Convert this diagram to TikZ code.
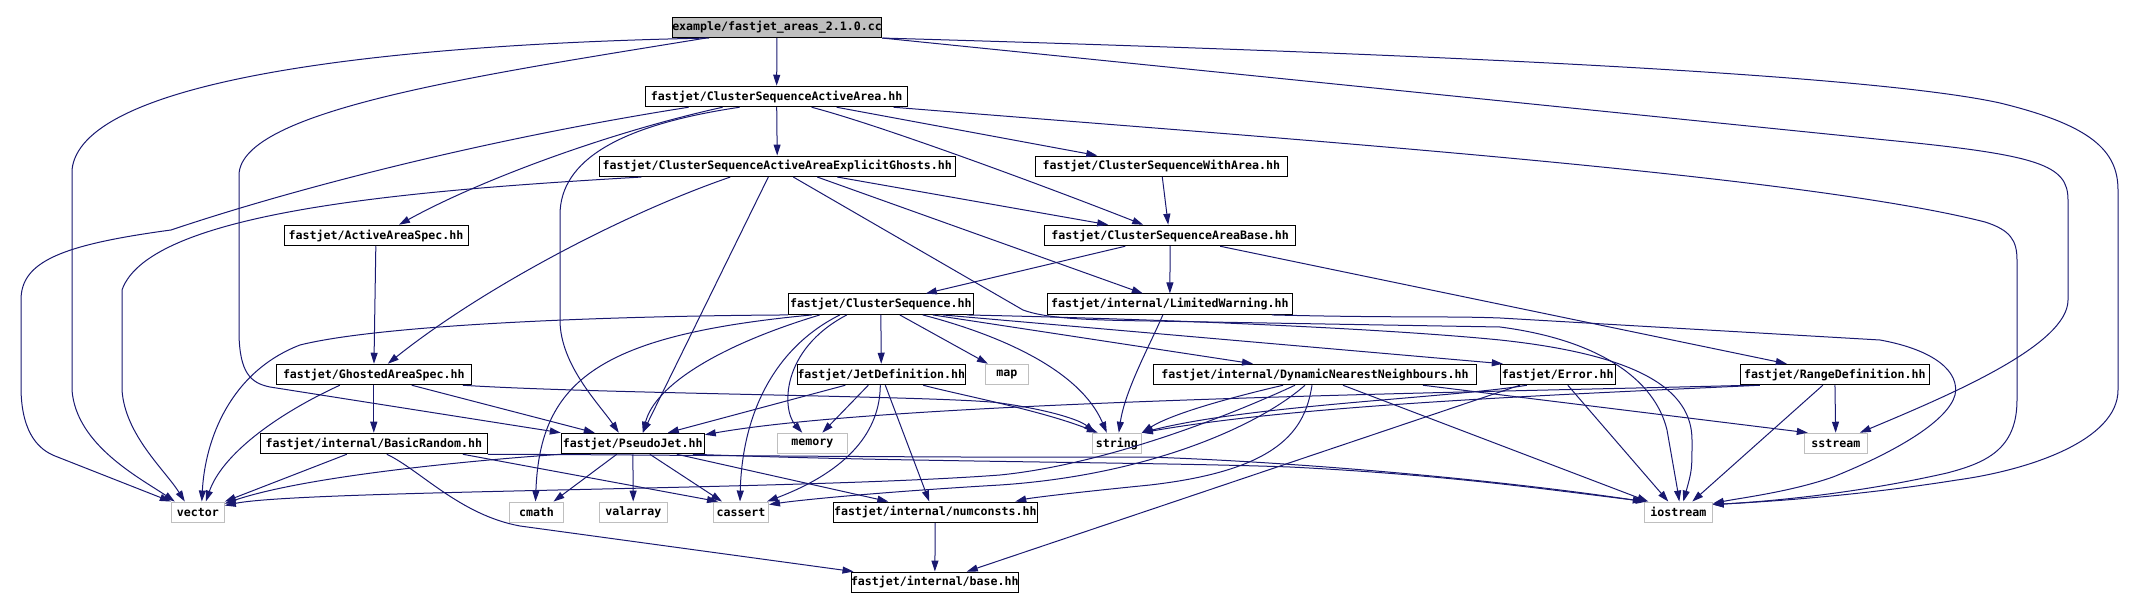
\documentclass[tikz,border=0pt]{standalone}
\usepackage{fontspec}
\setmonofont{DejaVu Sans Mono}
\usepackage{xcolor}
\usepackage{tikz}
\usetikzlibrary{arrows.meta}
\definecolor{edgeblue}{HTML}{191970}
\definecolor{sysgray}{HTML}{BFBFBF}

\begin{document}
\begin{tikzpicture}[x=1pt, y=-1pt,
  every node/.style={font=\fontsize{11.6pt}{13pt}\selectfont\ttfamily\bfseries, inner sep=0pt, minimum height=20.5pt},
  hdr/.style={draw=black, line width=1pt, fill=white},
  sys/.style={draw=sysgray, line width=1pt, fill=white},
  dep/.style={draw=edgeblue, line width=1pt, -{Triangle[length=11pt,width=7pt]}}]
\useasboundingbox (0,0) rectangle (2137,609);

\node[hdr, fill=sysgray, minimum width=207pt] (root) at (777,27.3) {example/fastjet\_areas\_2.1.0.cc};
\node[hdr, minimum width=262pt] (csaa) at (776.6,96.5) {fastjet/ClusterSequenceActiveArea.hh};
\node[hdr, minimum width=356pt] (csaaeg) at (777.3,166.3) {fastjet/ClusterSequenceActiveAreaExplicitGhosts.hh};
\node[hdr, minimum width=252pt] (cswa) at (1161.3,166.3) {fastjet/ClusterSequenceWithArea.hh};
\node[hdr, minimum width=184pt] (aas) at (376,235.5) {fastjet/ActiveAreaSpec.hh};
\node[hdr, minimum width=251pt] (csab) at (1170.2,235.5) {fastjet/ClusterSequenceAreaBase.hh};
\node[hdr, minimum width=185pt] (cs) at (880.8,304.2) {fastjet/ClusterSequence.hh};
\node[hdr, minimum width=245pt] (lw) at (1169.8,304.2) {fastjet/internal/LimitedWarning.hh};
\node[hdr, minimum width=195pt] (gas) at (373.8,374.5) {fastjet/GhostedAreaSpec.hh};
\node[hdr, minimum width=164pt] (jd) at (881.3,374.5) {fastjet/JetDefinition.hh};
\node[sys, minimum width=43pt] (map) at (1006.9,374.5) {map};
\node[hdr, minimum width=323pt] (dnn) at (1315,374.5) {fastjet/internal/DynamicNearestNeighbours.hh};
\node[hdr, minimum width=115pt] (err) at (1557.8,374.5) {fastjet/Error.hh};
\node[hdr, minimum width=189pt] (rd) at (1834.8,374.5) {fastjet/RangeDefinition.hh};
\node[hdr, minimum width=227pt] (br) at (373.8,443.5) {fastjet/internal/BasicRandom.hh};
\node[hdr, minimum width=143pt] (pj) at (632.8,443.5) {fastjet/PseudoJet.hh};
\node[sys, minimum width=70pt] (memory) at (812.3,443.5) {memory};
\node[sys, minimum width=49pt] (string) at (1116.8,443.5) {string};
\node[sys, minimum width=63pt] (sstream) at (1835.8,443.5) {sstream};
\node[sys, minimum width=53pt] (vector) at (197.8,512.3) {vector};
\node[sys, minimum width=54pt] (cmath) at (536.5,512.3) {cmath};
\node[sys, minimum width=68pt] (valarray) at (633.3,512.3) {valarray};
\node[sys, minimum width=55pt] (cassert) at (741,512.3) {cassert};
\node[hdr, minimum width=204pt] (numconsts) at (935.3,512.3) {fastjet/internal/numconsts.hh};
\node[sys, minimum width=68pt] (iostream) at (1678.3,512.3) {iostream};
\node[hdr, minimum width=163pt] (base) at (934.8,582.3) {fastjet/internal/base.hh};

\draw[dep] (root) -- (csaa);
\draw[dep] ([xshift=-68pt]root.south) .. controls (350,45) and (80,85) .. (72,170) -- (72,390) .. controls (76,445) and (140,478) .. ([xshift=4pt]vector.north west);
\draw[dep] ([xshift=-71pt]root.south) .. controls (480,75) and (240,110) .. (239,175) -- (239,335) .. controls (240,372) and (250,383) .. (270,387) -- (pj.north west);
\draw[dep] (root.south east) -- (1886,140) .. controls (2040,155) and (2068,165) .. (2068,200) -- (2068,300) .. controls (2068,345) and (1950,395) .. ([xshift=24pt]sstream.north);
\draw[dep] (root.south east) .. controls (1300,50) and (1850,70) .. (2000,103) .. controls (2090,125) and (2118,150) .. (2118,190) -- (2118,390) .. controls (2118,440) and (2030,470) .. (1957,480) .. controls (1850,497) and (1760,502) .. ([yshift=-3pt]iostream.north east);

\draw[dep] (csaa) -- (csaaeg);
\draw[dep] ([xshift=-54pt]csaa.south) .. controls (610,132) and (480,180) .. ([xshift=23pt]aas.north);
\draw[dep] ([xshift=-88pt]csaa.south) .. controls (480,140) and (290,190) .. (171,230) .. controls (60,245) and (21,262) .. (21,300) -- (21,390) .. controls (22,435) and (40,450) .. (55,456) -- (vector.north west);
\draw[dep] ([xshift=-37pt]csaa.south) .. controls (620,125) and (560,160) .. (560,215) -- (560,320) .. controls (560,365) and (600,405) .. ([xshift=-14pt]pj.north);
\draw[dep] ([xshift=60pt]csaa.south) -- ([xshift=-64pt]cswa.north);
\draw[dep] ([xshift=35pt]csaa.south) .. controls (880,125) and (1050,188) .. ([xshift=-27pt]csab.north);
\draw[dep] ([xshift=117pt]csaa.south) .. controls (1300,140) and (1800,175) .. (1985,222) .. controls (2010,230) and (2017,240) .. (2017,260) -- (2017,400) .. controls (2017,450) and (1985,463) .. (1947,473) .. controls (1850,495) and (1760,502) .. ([yshift=-3pt]iostream.north east);

\draw[dep] ([xshift=-136pt]csaaeg.south) .. controls (420,190) and (150,210) .. (122,290) -- (122,390) .. controls (125,435) and (165,470) .. ([xshift=-13pt]vector.north);
\draw[dep] ([xshift=-47pt]csaaeg.south) .. controls (620,215) and (480,290) .. ([xshift=14pt]gas.north);
\draw[dep] ([xshift=-9pt]csaaeg.south) -- ([xshift=10pt]pj.north);
\draw[dep] ([xshift=16pt]csaaeg.south) -- (1023,310) .. controls (1045,318) and (1080,320) .. (1150,321) -- (1500,327) .. controls (1600,340) and (1655,380) .. (1667,430) .. controls (1673,460) .. ([xshift=1pt]iostream.north);
\draw[dep] ([xshift=40pt]csaaeg.south) -- ([xshift=-27pt]lw.north);
\draw[dep] ([xshift=60pt]csaaeg.south) -- ([xshift=-62pt]csab.north);

\draw[dep] ([xshift=1pt]cswa.south) -- ([xshift=-2pt]csab.north);
\draw[dep] (aas) -- (gas);
\draw[dep] ([xshift=-45pt]csab.south) -- ([xshift=45pt]cs.north);
\draw[dep] (csab) -- (lw);
\draw[dep] ([xshift=50pt]csab.south) -- ([xshift=-48pt]rd.north);

\draw[dep] (cs.south west) .. controls (600,316) and (380,325) .. (300,345) .. controls (230,372) and (205,440) .. ([xshift=4pt]vector.north);
\draw[dep] ([xshift=-69pt]cs.south) .. controls (600,335) and (540,380) .. ([xshift=-1pt]cmath.north);
\draw[dep] ([xshift=-61pt]cs.south) .. controls (720,345) and (655,385) .. ([xshift=10pt]pj.north);
\draw[dep] ([xshift=-41pt]cs.south) .. controls (770,350) and (742,420) .. ([xshift=-1pt]cassert.north);
\draw[dep] ([xshift=-34pt]cs.south) .. controls (780,350) and (782,410) .. ([xshift=-10pt]memory.north);
\draw[dep] (cs) -- (jd);
\draw[dep] ([xshift=19pt]cs.south) -- ([xshift=-19pt]map.north);
\draw[dep] ([xshift=42pt]cs.south) .. controls (1000,335) and (1080,370) .. ([xshift=-10pt]string.north);
\draw[dep] ([xshift=52pt]cs.south) -- ([xshift=-62pt]dnn.north);
\draw[dep] ([xshift=62pt]cs.south) -- ([xshift=3pt]err.north west);
\draw[dep] ([xshift=86pt]cs.south) .. controls (1200,320) and (1400,330) .. (1500,340) .. controls (1640,355) and (1692,390) .. (1692,440) .. controls (1692,470) .. ([xshift=5pt]iostream.north);

\draw[dep] ([xshift=-7pt]lw.south) .. controls (1150,345) and (1125,390) .. ([xshift=2pt]string.north);
\draw[dep] ([xshift=102pt]lw.south) .. controls (1400,318) and (1450,316) .. (1500,318) -- (1880,340) .. controls (1935,350) and (1960,372) .. (1955,395) .. controls (1948,420) and (1900,450) .. (1833,477) .. controls (1790,492) and (1740,498) .. ([yshift=-2pt]iostream.north east);

\draw[dep] (gas) -- (br);
\draw[dep] ([xshift=38pt]gas.south) -- ([xshift=-38pt]pj.north);
\draw[dep] ([xshift=-34pt]gas.south) .. controls (275,415) and (222,455) .. ([xshift=8pt]vector.north);
\draw[dep] ([xshift=89pt]gas.south) .. controls (600,394) and (950,396) .. (1000,403) .. controls (1050,410) and (1080,420) .. ([xshift=-22pt]string.north);

\draw[dep] ([xshift=42pt]jd.south) .. controls (960,395) and (1040,410) .. ([xshift=-19pt]string.north);
\draw[dep] ([xshift=-36pt]jd.south) -- ([xshift=35pt]pj.north);
\draw[dep] ([xshift=-13pt]jd.south) -- ([xshift=10pt]memory.north);
\draw[dep] ([xshift=-1pt]jd.south) .. controls (880,430) and (850,470) .. ([xshift=26pt]cassert.north);
\draw[dep] ([xshift=4pt]jd.south) -- ([xshift=-6pt]numconsts.north);

\draw[dep] ([xshift=-32pt]dnn.south) .. controls (1220,400) and (1170,415) .. (string.north east);
\draw[dep] ([xshift=-20pt]dnn.south) .. controls (1220,420) and (1100,465) .. (1000,475) .. controls (800,490) and (300,490) .. ([yshift=-4pt]vector.north east);
\draw[dep] ([xshift=-10pt]dnn.south) .. controls (1260,425) and (1150,475) .. (1000,485) .. controls (880,492) and (800,500) .. ([yshift=-3pt]cassert.north east);
\draw[dep] ([xshift=-3pt]dnn.south) .. controls (1305,430) and (1280,470) .. (1150,485) .. controls (1070,493) and (1030,498) .. ([xshift=80pt]numconsts.north);
\draw[dep] ([xshift=28pt]dnn.south) -- ([xshift=-30pt]iostream.north);
\draw[dep] ([xshift=108pt]dnn.south) -- ([xshift=-28pt]sstream.north);

\draw[dep] ([xshift=-31pt]err.south) .. controls (1450,398) and (1250,405) .. (string.north east);
\draw[dep] ([xshift=10pt]err.south) -- ([xshift=-10pt]iostream.north);
\draw[dep] ([xshift=-38pt]err.south) -- ([xshift=32pt]base.north);

\draw[dep] ([xshift=-85pt]rd.south) .. controls (1500,392) and (900,400) .. ([yshift=-2pt]pj.north east);
\draw[dep] ([xshift=-75pt]rd.south) .. controls (1550,395) and (1300,405) .. (string.north east);
\draw[dep] (rd) -- (sstream);
\draw[dep] ([xshift=-12pt]rd.south) -- ([xshift=14pt]iostream.north);

\draw[dep] ([xshift=-27pt]br.south) -- (vector.north east);
\draw[dep] ([xshift=89pt]br.south) -- ([xshift=-23pt]cassert.north);
\draw[dep] ([xshift=13pt]br.south) .. controls (420,470) and (460,515) .. (520,526) -- ([xshift=3pt]base.north west);
\draw[dep] (br.south east) .. controls (700,455) and (950,458) .. (1147,457) .. controls (1300,462) and (1500,480) .. (iostream.north west);

\draw[dep] ([xshift=60pt]pj.south) .. controls (900,462) and (1150,462) .. (1290,467) .. controls (1450,475) and (1550,490) .. ([xshift=3pt]iostream.north west);
\draw[dep] (pj.south west) .. controls (450,462) and (300,478) .. ([yshift=-2pt]vector.north east);
\draw[dep] ([xshift=-16pt]pj.south) -- ([xshift=17pt]cmath.north);
\draw[dep] (pj) -- (valarray);
\draw[dep] ([xshift=17pt]pj.south) -- ([xshift=-19pt]cassert.north);
\draw[dep] ([xshift=44pt]pj.south) -- ([xshift=-47pt]numconsts.north);
\draw[dep] (numconsts) -- (base);
\end{tikzpicture}
\end{document}
